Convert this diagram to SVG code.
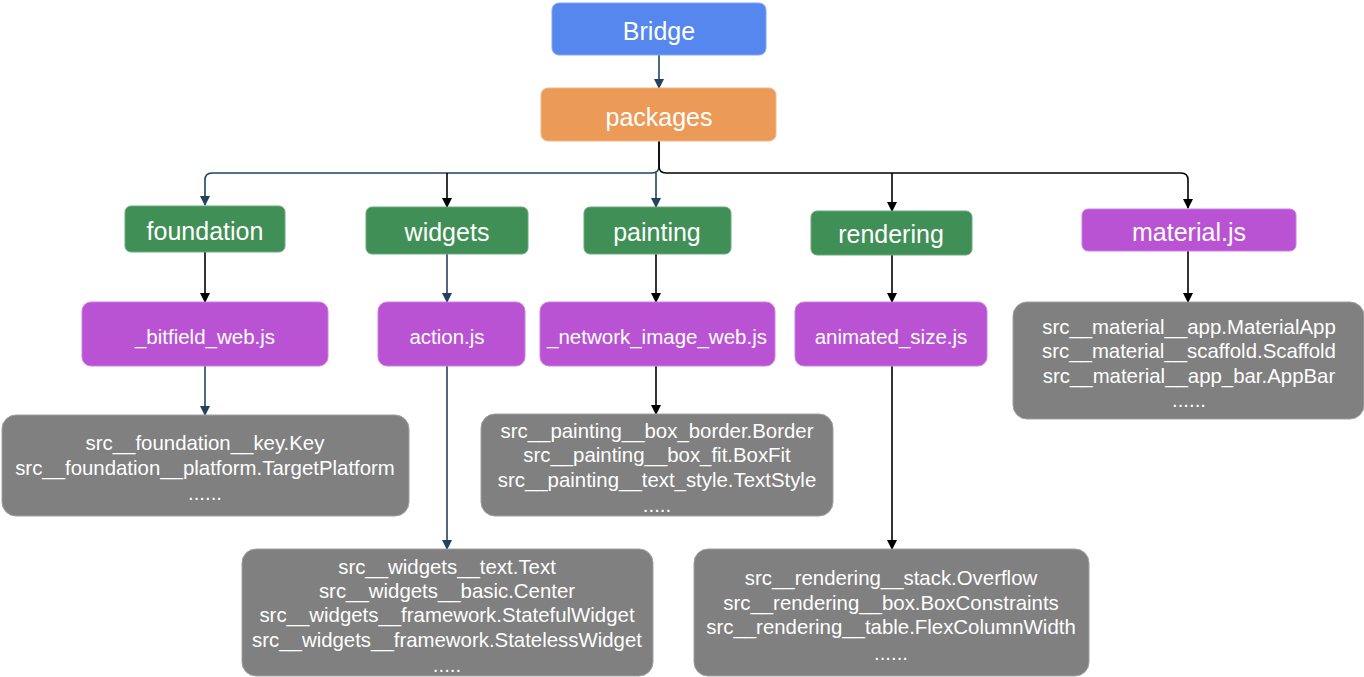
<svg xmlns="http://www.w3.org/2000/svg" width="1364" height="677" viewBox="0 0 1364 677">
<defs>
<marker id="ab" viewBox="0 0 10 10" refX="9" refY="5" markerWidth="10" markerHeight="10" markerUnits="userSpaceOnUse" orient="auto"><path d="M0,0 L10,5 L0,10 Z" fill="#23425f"/></marker>
<marker id="ak" viewBox="0 0 10 10" refX="9" refY="5" markerWidth="10" markerHeight="10" markerUnits="userSpaceOnUse" orient="auto"><path d="M0,0 L10,5 L0,10 Z" fill="#000"/></marker>
</defs>
<style>
text{font-family:"Liberation Sans",Arial,sans-serif;fill:#fff;text-anchor:middle;dominant-baseline:central}
.big{font-size:25px}
.md{font-size:20.5px}
.sm{font-size:20.4px}
.blue{fill:#5587ef;stroke:#7ea6f3;stroke-width:1}
.orange{fill:#eb9a57;stroke:#f2b789;stroke-width:1}
.green{fill:#408f56;stroke:#6aaa7c;stroke-width:1}
.purple{fill:#b953d3;stroke:#cc80e0;stroke-width:1}
.gray{fill:#808080;stroke:#a0a0a0;stroke-width:1}
.cb{fill:none;stroke:#23425f;stroke-width:1.6;marker-end:url(#ab)}
.ck{fill:none;stroke:#000;stroke-width:1.6;marker-end:url(#ak)}
</style>
<g id="connectors">
<path class="cb" d="M659,55 V88"/>
<path class="cb" d="M659,141 V166 Q659,173 652,173 H212 Q205,173 205,180 V205"/>
<path class="ck" d="M447,173 V207"/>
<path class="cb" d="M656,173 V207"/>
<path class="ck" d="M659,141 V166 Q659,173 666,173 H1181 Q1188,173 1188,180 V208"/>
<path class="ck" d="M892,173 V211"/>
<path class="ck" d="M205,252 V302"/>
<path class="cb" d="M205,366 V415"/>
<path class="cb" d="M447,254 V302"/>
<path class="cb" d="M447,366 V549"/>
<path class="ck" d="M656,254 V302"/>
<path class="ck" d="M656,366 V414"/>
<path class="ck" d="M892,255 V302"/>
<path class="ck" d="M892,366 V549"/>
<path class="ck" d="M1188,251 V302"/>
</g>
<g id="bridge"><rect class="blue" x="552" y="3" width="214" height="52" rx="7"/><text class="big" x="659" y="31">Bridge</text></g>
<g id="packages"><rect class="orange" x="541" y="88" width="235" height="53" rx="7"/><text class="big" x="659" y="117">packages</text></g>
<g id="foundation"><rect class="green" x="125" y="206" width="160" height="46" rx="6"/><text class="big" x="205" y="231">foundation</text></g>
<g id="widgets"><rect class="green" x="366" y="207" width="162" height="47" rx="6"/><text class="big" x="447" y="232">widgets</text></g>
<g id="painting"><rect class="green" x="584" y="207" width="147" height="47" rx="6"/><text class="big" x="657" y="232">painting</text></g>
<g id="rendering"><rect class="green" x="811" y="211" width="161" height="44" rx="6"/><text class="big" x="891" y="234">rendering</text></g>
<g id="material"><rect class="purple" x="1082" y="209" width="214" height="42" rx="6"/><text class="big" x="1189" y="232">material.js</text></g>
<g id="bitfield"><rect class="purple" x="82" y="302" width="246" height="64" rx="9"/><text class="md" x="205" y="336">_bitfield_web.js</text></g>
<g id="action"><rect class="purple" x="378" y="302" width="147" height="64" rx="9"/><text class="md" x="447" y="336">action.js</text></g>
<g id="network"><rect class="purple" x="540" y="302" width="235" height="64" rx="9"/><text class="md" x="657" y="336">_network_image_web.js</text></g>
<g id="animated"><rect class="purple" x="795" y="302" width="192" height="64" rx="9"/><text class="md" x="891" y="336">animated_size.js</text></g>
<g id="foundation-list"><rect class="gray" x="2" y="415" width="407" height="101" rx="14"/>
<text class="sm" x="205" y="443">src__foundation__key.Key</text>
<text class="sm" x="205" y="468">src__foundation__platform.TargetPlatform</text>
<text class="sm" x="205" y="493">......</text></g>
<g id="painting-list"><rect class="gray" x="481" y="414" width="352" height="102" rx="14"/>
<text class="sm" x="657" y="431">src__painting__box_border.Border</text>
<text class="sm" x="657" y="455">src__painting__box_fit.BoxFit</text>
<text class="sm" x="657" y="480">src__painting__text_style.TextStyle</text>
<text class="sm" x="657" y="505">.....</text></g>
<g id="widgets-list"><rect class="gray" x="242" y="549" width="411" height="127" rx="14"/>
<text class="sm" x="447" y="567">src__widgets__text.Text</text>
<text class="sm" x="447" y="591">src__widgets__basic.Center</text>
<text class="sm" x="447" y="615">src__widgets__framework.StatefulWidget</text>
<text class="sm" x="447" y="640">src__widgets__framework.StatelessWidget</text>
<text class="sm" x="447" y="665">.....</text></g>
<g id="rendering-list"><rect class="gray" x="694" y="549" width="395" height="127" rx="14"/>
<text class="sm" x="891" y="578">src__rendering__stack.Overflow</text>
<text class="sm" x="891" y="603">src__rendering__box.BoxConstraints</text>
<text class="sm" x="891" y="627">src__rendering__table.FlexColumnWidth</text>
<text class="sm" x="891" y="653">......</text></g>
<g id="material-list"><rect class="gray" x="1013" y="302" width="351" height="117" rx="14"/>
<text class="sm" x="1189" y="327">src__material__app.MaterialApp</text>
<text class="sm" x="1189" y="351">src__material__scaffold.Scaffold</text>
<text class="sm" x="1189" y="376">src__material__app_bar.AppBar</text>
<text class="sm" x="1189" y="400">......</text></g>
</svg>
